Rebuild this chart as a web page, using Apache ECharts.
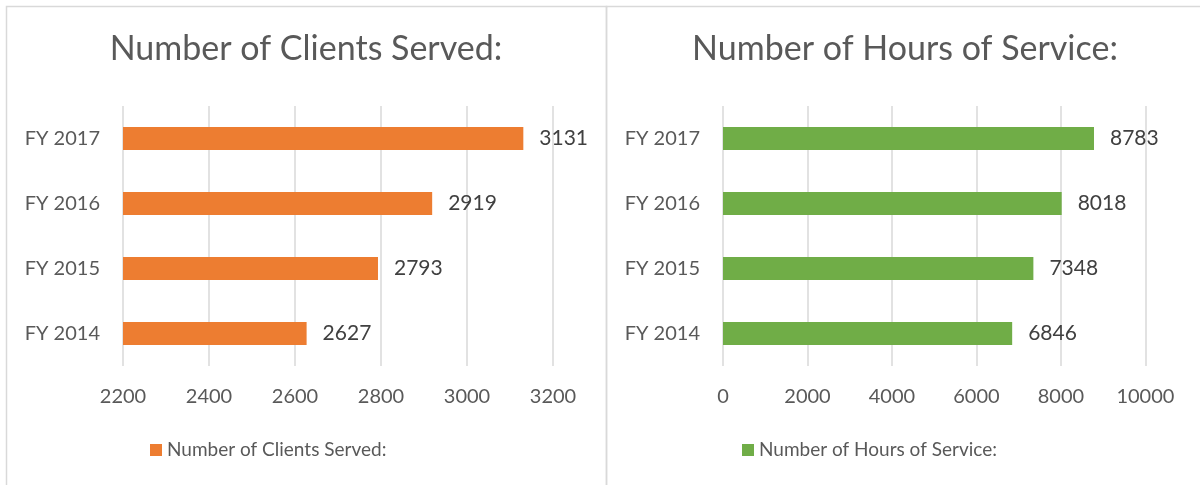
<!DOCTYPE html>
<html>
<head>
<meta charset="utf-8">
<script src="https://cdn.jsdelivr.net/npm/echarts@6/dist/echarts.min.js"></script>
<style>
  html, body { margin: 0; padding: 0; background: #fff; }
  #chart { width: 1200px; height: 485px; }
</style>
</head>
<body>
<div id="chart"></div>
<script>
// data
const years = ['FY 2014', 'FY 2015', 'FY 2016', 'FY 2017'];
const clientsName = 'Number of Clients Served:';
const clients = [2627, 2793, 2919, 3131];
const hoursName = 'Number of Hours of Service:';
const hours = [6846, 7348, 8018, 8783];

const FONT = "'Lato', sans-serif";
const TEXT = '#595959';
const GRID = '#d9d9d9';

const chart = echarts.init(document.getElementById('chart'));

const xAxisBase = (min, max, interval) => ({
  type: 'value',
  min: min,
  max: max,
  interval: interval,
  axisLine: { show: false },
  axisTick: { show: false },
  splitLine: { lineStyle: { color: GRID, width: 1.5 } },
  axisLabel: {
    color: TEXT, fontSize: 20, fontFamily: FONT, margin: 21, lineHeight: 20,
    formatter: (v) => String(v)
  }
});

const yAxisBase = () => ({
  type: 'category',
  data: years,
  axisLine: { show: false },
  axisTick: { show: false },
  axisLabel: { color: TEXT, fontSize: 20, fontFamily: FONT, margin: 23 }
});

const labelStyle = {
  show: true,
  position: 'right',
  distance: 16,
  color: '#404040',
  fontSize: 21,
  fontFamily: FONT
};

chart.setOption({
  animation: false,
  textStyle: { fontFamily: FONT },
  graphic: [
    { type: 'rect', shape: { x: 6.5, y: 6.5, width: 600, height: 500 },
      style: { fill: 'none', stroke: GRID, lineWidth: 1.5 }, silent: true },
    { type: 'rect', shape: { x: 606.5, y: 6.5, width: 600, height: 500 },
      style: { fill: 'none', stroke: GRID, lineWidth: 1.5 }, silent: true }
  ],
  title: [
    { text: clientsName, left: 306, top: 29, textAlign: 'center', padding: 0,
      textStyle: { color: TEXT, fontSize: 34, fontWeight: 'normal', fontFamily: FONT, lineHeight: 40 } },
    { text: hoursName, left: 905, top: 29, textAlign: 'center', padding: 0,
      textStyle: { color: TEXT, fontSize: 34, fontWeight: 'normal', fontFamily: FONT, lineHeight: 40 } }
  ],
  legend: [
    { data: [clientsName], left: 150, top: 440, padding: 0, icon: 'rect',
      itemWidth: 12, itemHeight: 12, selectedMode: false,
      textStyle: { color: TEXT, fontSize: 19, fontFamily: FONT, lineHeight: 20 } },
    { data: [hoursName], left: 742, top: 440, padding: 0, icon: 'rect',
      itemWidth: 12, itemHeight: 12, selectedMode: false,
      textStyle: { color: TEXT, fontSize: 19, fontFamily: FONT, lineHeight: 20 } }
  ],
  grid: [
    { left: 123, top: 106, width: 430, height: 260, containLabel: false },
    { left: 723, top: 106, width: 422.4, height: 260, containLabel: false }
  ],
  xAxis: [
    Object.assign(xAxisBase(2200, 3200, 200), { gridIndex: 0 }),
    Object.assign(xAxisBase(0, 10000, 2000), { gridIndex: 1 })
  ],
  yAxis: [
    Object.assign(yAxisBase(), { gridIndex: 0 }),
    Object.assign(yAxisBase(), { gridIndex: 1 })
  ],
  series: [
    {
      name: clientsName,
      type: 'bar',
      xAxisIndex: 0,
      yAxisIndex: 0,
      data: clients,
      barWidth: 23,
      itemStyle: { color: '#ed7d31' },
      label: labelStyle
    },
    {
      name: hoursName,
      type: 'bar',
      xAxisIndex: 1,
      yAxisIndex: 1,
      data: hours,
      barWidth: 23,
      itemStyle: { color: '#70ad47' },
      label: labelStyle
    }
  ]
});
</script>
</body>
</html>
